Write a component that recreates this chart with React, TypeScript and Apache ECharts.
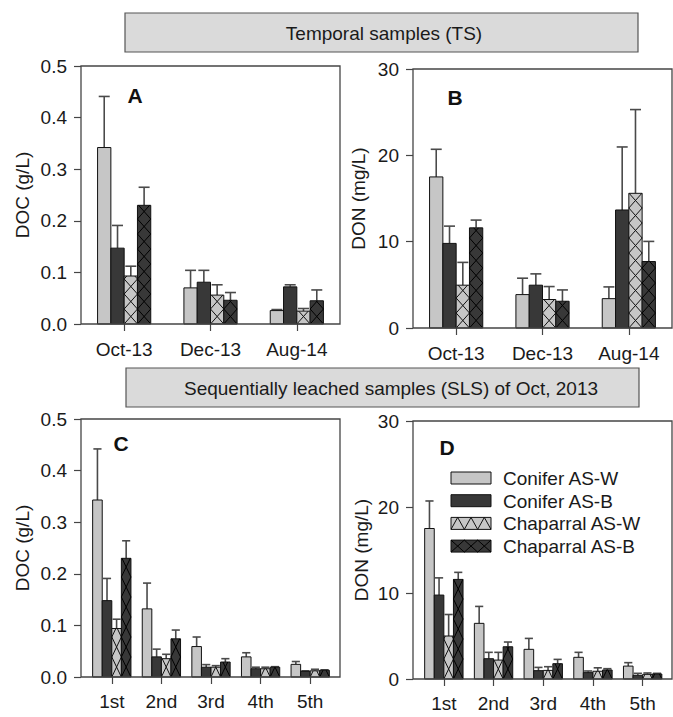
import React, { useEffect, useRef } from "react";
import * as echarts from "echarts";

// ---------- data ----------
const tsCategories = ["Oct-13", "Dec-13", "Aug-14"];
const slsCategories = ["1st", "2nd", "3rd", "4th", "5th"];
const seriesNames = ["Conifer AS-W", "Conifer AS-B", "Chaparral AS-W", "Chaparral AS-B"];

// Panel A: DOC (g/L), temporal samples
const docTsConiferW = [0.342, 0.07, 0.026];
const docTsConiferWErr = [0.099, 0.034, 0.002];
const docTsConiferB = [0.147, 0.081, 0.072];
const docTsConiferBErr = [0.044, 0.023, 0.004];
const docTsChapW = [0.093, 0.056, 0.025];
const docTsChapWErr = [0.019, 0.02, 0.005];
const docTsChapB = [0.23, 0.046, 0.045];
const docTsChapBErr = [0.035, 0.015, 0.021];

// Panel B: DON (mg/L), temporal samples
const donTsConiferW = [17.5, 3.87, 3.4];
const donTsConiferWErr = [3.2, 1.9, 1.36];
const donTsConiferB = [9.8, 4.96, 13.67];
const donTsConiferBErr = [2.0, 1.31, 7.3];
const donTsChapW = [4.96, 3.3, 15.6];
const donTsChapWErr = [2.64, 1.5, 9.7];
const donTsChapB = [11.6, 3.1, 7.7];
const donTsChapBErr = [0.9, 1.31, 2.33];

// Panel C: DOC (g/L), sequentially leached samples
const docSlsConiferW = [0.343, 0.132, 0.059, 0.039, 0.0245];
const docSlsConiferWErr = [0.099, 0.05, 0.0185, 0.008, 0.0055];
const docSlsConiferB = [0.148, 0.039, 0.019, 0.016, 0.011];
const docSlsConiferBErr = [0.043, 0.015, 0.005, 0.003, 0.001];
const docSlsChapW = [0.094, 0.0355, 0.019, 0.016, 0.012];
const docSlsChapWErr = [0.018, 0.0085, 0.003, 0.003, 0.003];
const docSlsChapB = [0.23, 0.074, 0.029, 0.019, 0.013];
const docSlsChapBErr = [0.034, 0.017, 0.0065, 0.001, 0.001];

// Panel D: DON (mg/L), sequentially leached samples
const donSlsConiferW = [17.5, 6.47, 3.45, 2.52, 1.5];
const donSlsConiferWErr = [3.2, 1.97, 1.27, 0.58, 0.4];
const donSlsConiferB = [9.76, 2.36, 0.97, 0.74, 0.43];
const donSlsConiferBErr = [2.0, 0.74, 0.38, 0.19, 0.23];
const donSlsChapW = [5.0, 2.2, 1.0, 0.9, 0.54];
const donSlsChapWErr = [2.5, 0.9, 0.43, 0.4, 0.16];
const donSlsChapB = [11.58, 3.75, 1.78, 1.05, 0.58];
const donSlsChapBErr = [0.82, 0.55, 0.5, 0.15, 0.08];

const docTicks = [0, 0.1, 0.2, 0.3, 0.4, 0.5];
const donTicks = [0, 10, 20, 30];

// ---------- styling ----------
const FONT = "'Liberation Sans', Arial, Helvetica, sans-serif";
const FS = 19;
const TXT = "#1a1a1a";
const AX = "#454545";
const LIGHT = "#c6c6c6";
const DARK = "#383838";
const fills = [LIGHT, DARK, LIGHT, DARK];
const hatched = [false, false, true, true];

type Panel = {
  cats: string[];
  means: number[][];
  errs: number[][];
  ticks: number[];
  decimals: number;
  yName: string;
  nameGap: number;
  grid: { left: number; top: number; width: number; height: number };
  yOffset: number;
  labelMargin: number;
  barFrac: number;
  cellH: number;
  frame: { x: number; y: number; w: number; h: number };
  letter: string;
  letterPos: [number, number];
};

const panels: Panel[] = [
  {
    cats: tsCategories,
    means: [docTsConiferW, docTsConiferB, docTsChapW, docTsChapB],
    errs: [docTsConiferWErr, docTsConiferBErr, docTsChapWErr, docTsChapBErr],
    ticks: docTicks,
    decimals: 1,
    yName: "DOC (g/L)",
    nameGap: 49,
    grid: { left: 81, top: 66, width: 259, height: 258 },
    yOffset: 0,
    labelMargin: 16,
    barFrac: 0.154,
    cellH: 15,
    frame: { x: 81, y: 66, w: 259, h: 258 },
    letter: "A",
    letterPos: [135, 95],
  },
  {
    cats: tsCategories,
    means: [donTsConiferW, donTsConiferB, donTsChapW, donTsChapB],
    errs: [donTsConiferWErr, donTsConiferBErr, donTsChapWErr, donTsChapBErr],
    ticks: donTicks,
    decimals: 0,
    yName: "DON (mg/L)",
    nameGap: 45,
    grid: { left: 413, top: 69, width: 259, height: 259 },
    yOffset: 0,
    labelMargin: 16,
    barFrac: 0.154,
    cellH: 15,
    frame: { x: 413, y: 69, w: 259, h: 259 },
    letter: "B",
    letterPos: [455, 97],
  },
  {
    cats: slsCategories,
    means: [docSlsConiferW, docSlsConiferB, docSlsChapW, docSlsChapB],
    errs: [docSlsConiferWErr, docSlsConiferBErr, docSlsChapWErr, docSlsChapBErr],
    ticks: docTicks,
    decimals: 1,
    yName: "DOC (g/L)",
    nameGap: 49,
    grid: { left: 87, top: 419, width: 248, height: 258 },
    yOffset: 6,
    labelMargin: 15,
    barFrac: 0.193,
    cellH: 20,
    frame: { x: 81, y: 419, w: 259, h: 258 },
    letter: "C",
    letterPos: [121, 443],
  },
  {
    cats: slsCategories,
    means: [donSlsConiferW, donSlsConiferB, donSlsChapW, donSlsChapB],
    errs: [donSlsConiferWErr, donSlsConiferBErr, donSlsChapWErr, donSlsChapBErr],
    ticks: donTicks,
    decimals: 0,
    yName: "DON (mg/L)",
    nameGap: 42,
    grid: { left: 419, top: 421, width: 248.5, height: 258 },
    yOffset: 6,
    labelMargin: 15,
    barFrac: 0.193,
    cellH: 20,
    frame: { x: 413, y: 421, w: 259, h: 258 },
    letter: "D",
    letterPos: [447, 447],
  },
];

function hatchLines(x0: number, w: number, yBottom: number, yTop: number, s: number, color: string) {
  const out: any[] = [];
  const x1 = x0 + w;
  for (let k = 0; yBottom - k * s > yTop + 0.01; k++) {
    const yb = yBottom - k * s;
    let ye = yb - s;
    let t = 1;
    if (ye < yTop) {
      t = (yb - yTop) / s;
      ye = yTop;
    }
    out.push({
      type: "line",
      shape: { x1: x0, y1: yb, x2: x0 + t * w, y2: ye },
      style: { stroke: color, lineWidth: 1 },
    });
    out.push({
      type: "line",
      shape: { x1: x1, y1: yb, x2: x1 - t * w, y2: ye },
      style: { stroke: color, lineWidth: 1 },
    });
  }
  return out;
}

function makeRender(k: number, barFrac: number, cellH: number) {
  return (params: any, api: any) => {
    const cat = api.value(0);
    const val = api.value(1);
    const err = api.value(2);
    const p0 = api.coord([cat, 0]);
    const pv = api.coord([cat, val]);
    const pe = api.coord([cat, val + err]);
    const band = api.size([1, 0])[0];
    const barW = band * barFrac;
    const x0 = p0[0] - 2 * barW + k * barW;
    const xc = x0 + barW / 2;
    const capW = Math.min(barW * 0.85, 11);
    const children: any[] = [];
    children.push({
      type: "line",
      shape: { x1: xc, y1: pv[1], x2: xc, y2: pe[1] },
      style: { stroke: "#4a4a4a", lineWidth: 1.6 },
    });
    children.push({
      type: "line",
      shape: { x1: xc - capW / 2, y1: pe[1], x2: xc + capW / 2, y2: pe[1] },
      style: { stroke: "#4a4a4a", lineWidth: 1.6 },
    });
    children.push({
      type: "rect",
      shape: { x: x0, y: pv[1], width: barW, height: p0[1] - pv[1] },
      style: { fill: fills[k], stroke: "#111", lineWidth: 1 },
    });
    if (hatched[k]) {
      hatchLines(x0, barW, p0[1], pv[1], cellH, k === 2 ? "#111" : "#000").forEach((c) =>
        children.push(c)
      );
    }
    return { type: "group", children };
  };
}

function buildOption() {
  const grid: any[] = [];
  const xAxis: any[] = [];
  const yAxis: any[] = [];
  const series: any[] = [];
  const graphic: any[] = [];

  panels.forEach((p, i) => {
    grid.push({ ...p.grid, containLabel: false });
    xAxis.push({
      type: "category",
      gridIndex: i,
      data: p.cats,
      boundaryGap: true,
      axisLine: { show: false },
      axisTick: { show: true, alignWithLabel: true, length: 7, lineStyle: { color: AX, width: 1.2 } },
      axisLabel: { margin: p.labelMargin, fontSize: FS, color: TXT, fontFamily: FONT },
      splitLine: { show: false },
    });
    const step = p.ticks[1] - p.ticks[0];
    yAxis.push({
      type: "value",
      gridIndex: i,
      min: p.ticks[0],
      max: p.ticks[p.ticks.length - 1],
      interval: step,
      offset: p.yOffset,
      axisLine: { show: false },
      axisTick: { show: true, length: 7, lineStyle: { color: AX, width: 1.2 } },
      axisLabel: {
        margin: 14,
        fontSize: FS,
        color: TXT,
        fontFamily: FONT,
        formatter: (v: number) => v.toFixed(p.decimals),
      },
      splitLine: { show: false },
      name: p.yName,
      nameLocation: "middle",
      nameGap: p.nameGap,
      nameTextStyle: { fontSize: FS, color: TXT, fontFamily: FONT },
    });
    for (let k = 0; k < 4; k++) {
      series.push({
        type: "custom",
        name: seriesNames[k],
        xAxisIndex: i,
        yAxisIndex: i,
        clip: false,
        encode: { x: 0, y: 1 },
        data: p.cats.map((_, j) => [j, p.means[k][j], p.errs[k][j]]),
        renderItem: makeRender(k, p.barFrac, p.cellH),
      });
    }
    graphic.push({
      type: "rect",
      shape: { x: p.frame.x, y: p.frame.y, width: p.frame.w, height: p.frame.h },
      style: { fill: "none", stroke: AX, lineWidth: 1.3 },
      z: 100,
    });
    graphic.push({
      type: "text",
      x: p.letterPos[0],
      y: p.letterPos[1],
      style: {
        text: p.letter,
        font: `bold 21px ${FONT}`,
        fill: "#111",
        textAlign: "center",
        textVerticalAlign: "middle",
      },
      z: 100,
    });
  });

  // banners
  const banners = [
    { x: 125, y: 13, w: 513, h: 39, text: "Temporal samples (TS)", tx: 384 },
    { x: 126, y: 368, w: 513, h: 39, text: "Sequentially leached samples (SLS) of Oct, 2013", tx: 391 },
  ];
  banners.forEach((b) => {
    graphic.push({
      type: "rect",
      shape: { x: b.x, y: b.y, width: b.w, height: b.h },
      style: { fill: "#dadada", stroke: "#555", lineWidth: 1.2 },
      z: 100,
    });
    graphic.push({
      type: "text",
      x: b.tx,
      y: b.y + b.h / 2 + 1,
      style: {
        text: b.text,
        font: `${FS}px ${FONT}`,
        fill: TXT,
        textAlign: "center",
        textVerticalAlign: "middle",
      },
      z: 101,
    });
  });

  // legend (panel D)
  const lx = 451;
  const lw = 40;
  const lh = 12;
  seriesNames.forEach((name, k) => {
    const cy = 478 + k * 22.7;
    const yt = cy - lh / 2;
    const yb = cy + lh / 2;
    graphic.push({
      type: "rect",
      shape: { x: lx, y: yt, width: lw, height: lh },
      style: { fill: fills[k], stroke: "#111", lineWidth: 1 },
      z: 100,
    });
    if (k === 2) {
      const pts: number[][] = [];
      for (let j = 0; j <= 6; j++) pts.push([lx + (j * lw) / 6, j % 2 === 0 ? yb : yt]);
      graphic.push({
        type: "polyline",
        shape: { points: pts },
        style: { stroke: "#111", lineWidth: 1, fill: "none" },
        z: 101,
      });
    }
    if (k === 3) {
      for (let j = 0; j < 3; j++) {
        const a = lx + (j * lw) / 3;
        const c = lx + ((j + 1) * lw) / 3;
        graphic.push({ type: "line", shape: { x1: a, y1: yb, x2: c, y2: yt }, style: { stroke: "#000", lineWidth: 1 }, z: 101 });
        graphic.push({ type: "line", shape: { x1: a, y1: yt, x2: c, y2: yb }, style: { stroke: "#000", lineWidth: 1 }, z: 101 });
      }
    }
    graphic.push({
      type: "text",
      x: 503,
      y: cy + 0.5,
      style: { text: name, font: `${FS}px ${FONT}`, fill: TXT, textAlign: "left", textVerticalAlign: "middle" },
      z: 101,
    });
  });

  return { animation: false, backgroundColor: "#ffffff", grid, xAxis, yAxis, series, graphic };
}

export default function App() {
  const ref = useRef<HTMLDivElement>(null);
  useEffect(() => {
    if (!ref.current) return;
    const chart = echarts.init(ref.current, undefined, { renderer: "svg" });
    chart.setOption(buildOption() as any);
    return () => chart.dispose();
  }, []);
  return (
    <div
      ref={ref}
      style={{ position: "absolute", left: 0, top: 0, width: 673, height: 717, background: "#fff" }}
    />
  );
}
